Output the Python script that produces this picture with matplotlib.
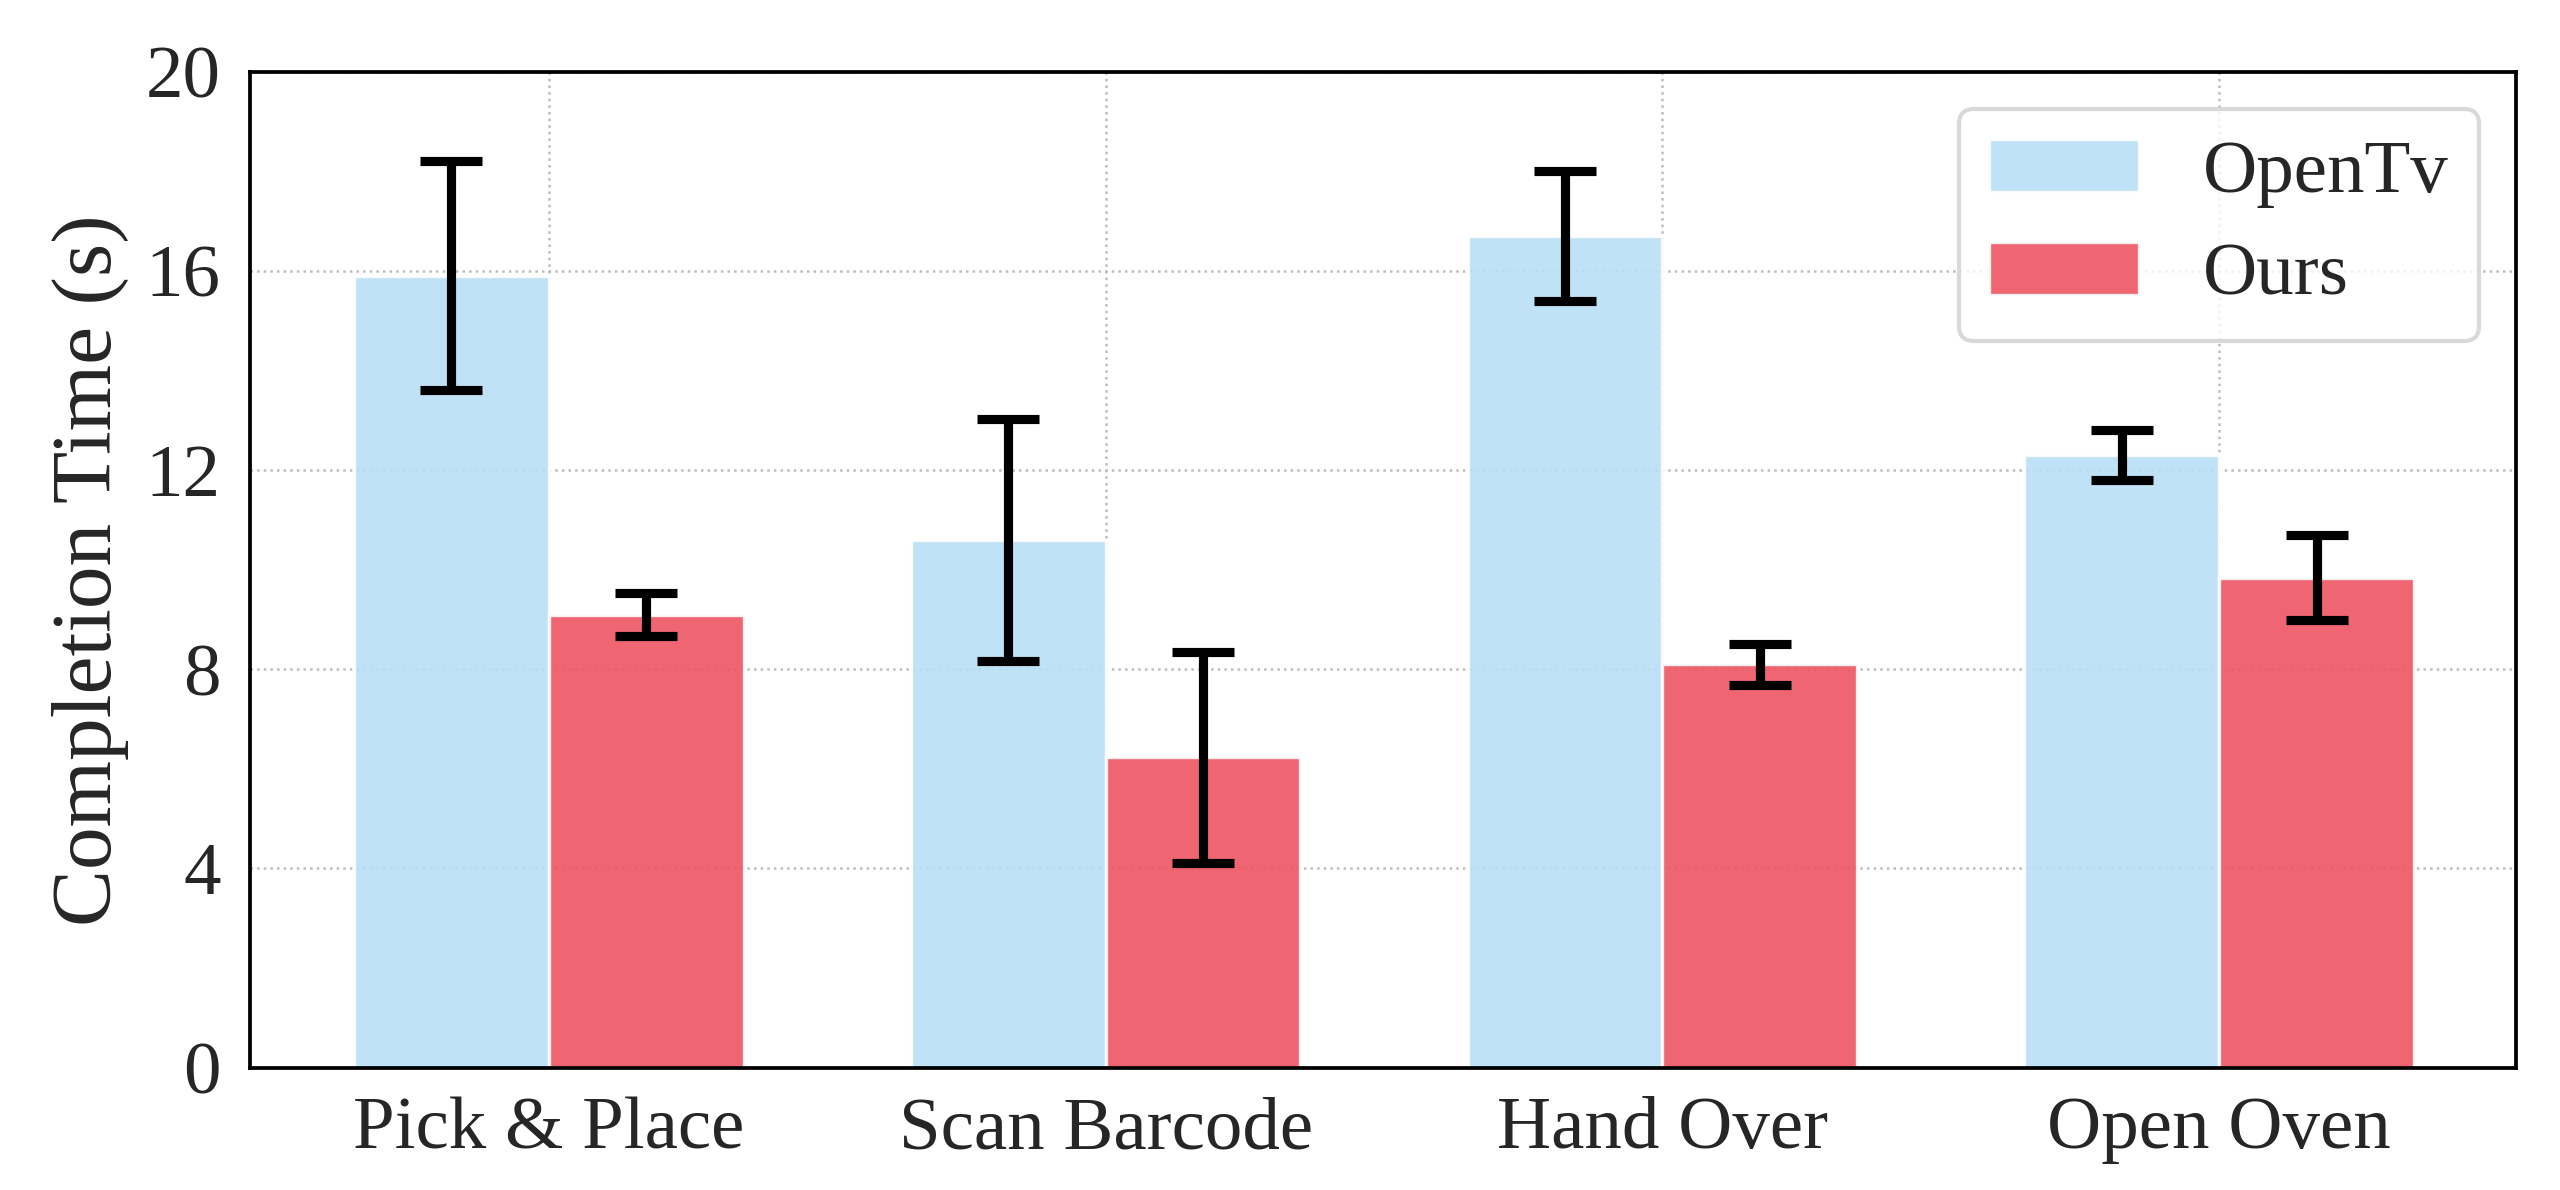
import matplotlib
matplotlib.use("Agg")
import matplotlib.pyplot as plt
import numpy as np

categories = ["Pick & Place", "Scan Barcode", "Hand Over", "Open Oven"]
opentv_mean = [15.9, 10.6, 16.7, 12.3]
opentv_err = [2.3, 2.43, 1.31, 0.5]
ours_mean = [9.1, 6.23, 8.1, 9.84]
ours_err = [0.43, 2.12, 0.41, 0.85]
yticks = [0, 4, 8, 12, 16, 20]

plt.rcParams['font.family'] = ['Liberation Serif', 'DejaVu Serif']
text_color = '#262626'
plt.rcParams['text.color'] = text_color
plt.rcParams['axes.labelcolor'] = text_color
plt.rcParams['xtick.color'] = text_color
plt.rcParams['ytick.color'] = text_color

fig = plt.figure(figsize=(2560/300, 1190/300), dpi=300)
ax = fig.add_axes([0.0976, 0.1029, 0.8854, 0.8367])

x = np.arange(len(categories))
w = 0.35
c_blue = '#b9dff5'
c_red = '#ee5563'
ax.bar(x - w/2, opentv_mean, w, color=c_blue, alpha=0.9, edgecolor='white', linewidth=0.8,
       label='OpenTv', zorder=2)
ax.bar(x + w/2, ours_mean, w, color=c_red, alpha=0.9, edgecolor='white', linewidth=0.8,
       label='Ours', zorder=2)
ax.errorbar(x - w/2, opentv_mean, yerr=opentv_err, fmt='none', ecolor='black',
            elinewidth=2.2, capsize=7.5, capthick=2.2, zorder=3)
ax.errorbar(x + w/2, ours_mean, yerr=ours_err, fmt='none', ecolor='black',
            elinewidth=2.2, capsize=7.5, capthick=2.2, zorder=3)

ax.set_xlim(-0.537, 3.534)
ax.set_ylim(0, 20)
ax.set_yticks(yticks)
ax.set_xticks(x)
ax.set_xticklabels(categories)
ax.tick_params(axis='both', length=0, labelsize=18, pad=7)
ax.set_ylabel('Completion Time (s)', fontsize=20.5, labelpad=4)

ax.grid(True, linestyle=':', color='#bdbdbd', linewidth=0.6, zorder=0)
ax.set_axisbelow(True)
for s in ax.spines.values():
    s.set_color('black')
    s.set_linewidth(0.9)

leg = ax.legend(loc='upper right', fontsize=18, handlelength=2.0, handleheight=0.7,
                handletextpad=0.85, labelspacing=0.46, fancybox=True, framealpha=0.8,
                borderpad=0.4)
leg.get_frame().set_edgecolor('#d0d0d0')
leg.get_frame().set_linewidth(1.0)

fig.savefig('out.png', dpi=300)
